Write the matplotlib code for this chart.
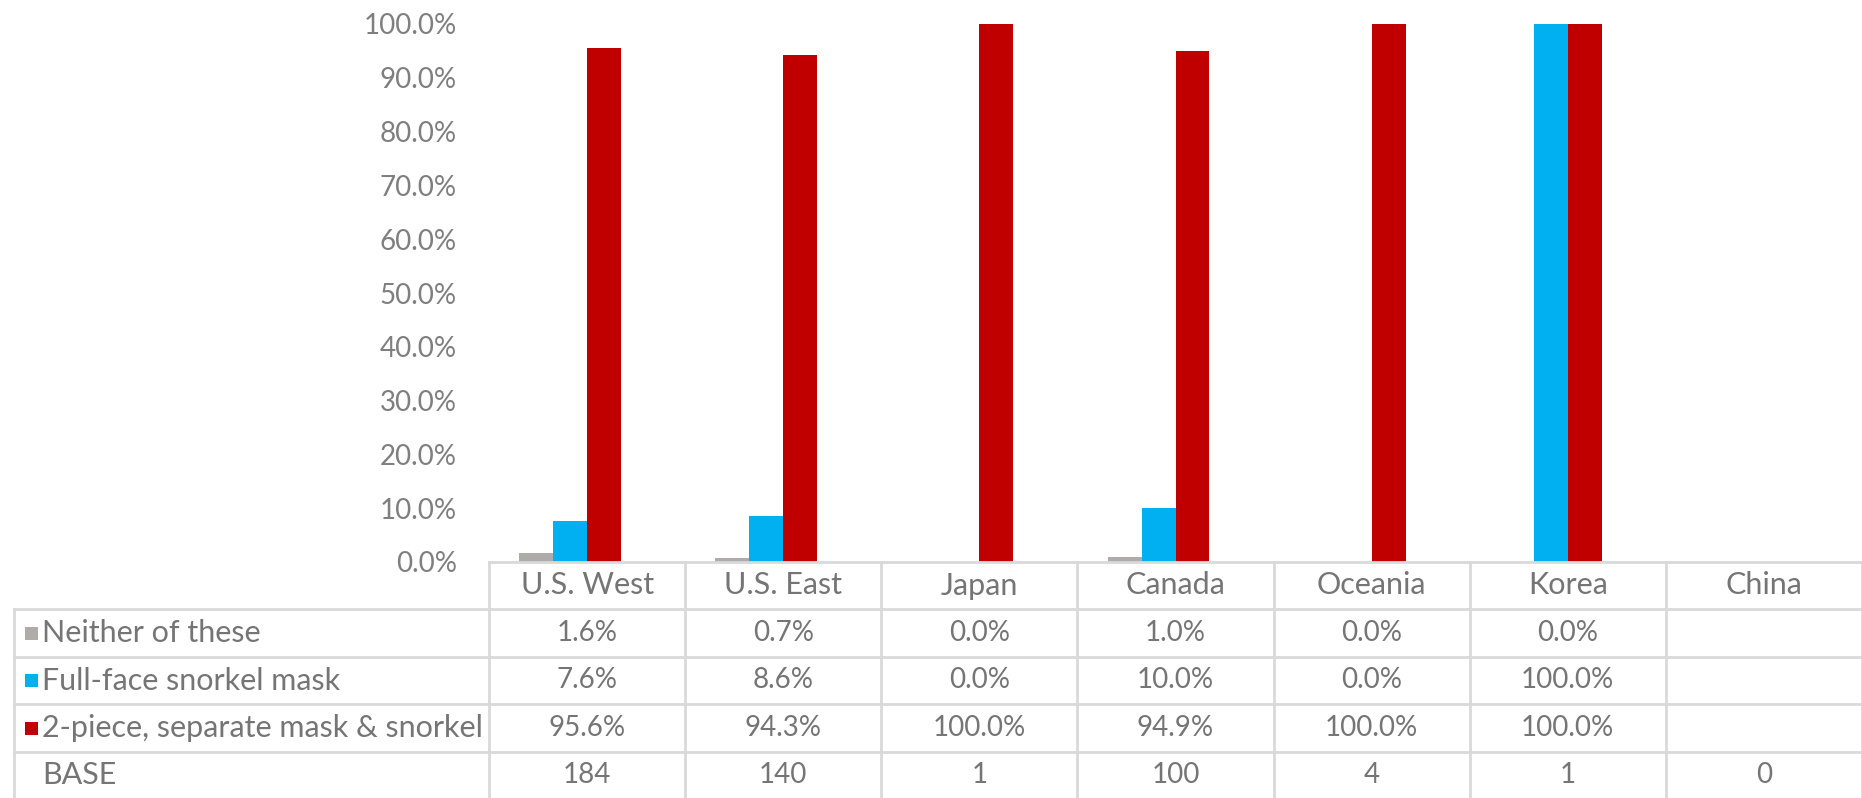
import numpy as np
import matplotlib.pyplot as plt
from matplotlib.transforms import blended_transform_factory
from matplotlib.patches import Rectangle

plt.rcParams['font.family'] = ['Lato', 'DejaVu Sans']

# data
regions = ['U.S. West', 'U.S. East', 'Japan', 'Canada', 'Oceania', 'Korea', 'China']
neither = [1.6, 0.7, 0.0, 1.0, 0.0, 0.0, None]
full_face = [7.6, 8.6, 0.0, 10.0, 0.0, 100.0, None]
two_piece = [95.6, 94.3, 100.0, 94.9, 100.0, 100.0, None]
base = [184, 140, 1, 100, 4, 1, 0]
series_names = ['Neither of these', 'Full-face snorkel mask', '2-piece, separate mask & snorkel']
colors = ['#afabab', '#00b0f0', '#c00000']

W, H = 1862, 798
fig = plt.figure(figsize=(W / 100, H / 100), dpi=100)
left_px, zero_px, top_px = 489, 562, 24
ax = fig.add_axes([left_px / W, 1 - zero_px / H, 1 - left_px / W, (zero_px - top_px) / H])

x = np.arange(len(regions))
w = 0.1727
for k, (vals, c) in enumerate(zip([neither, full_face, two_piece], colors)):
    v = np.array([np.nan if a is None else a / 100 for a in vals])
    ax.bar(x + (k - 1.5) * w, v, width=w, color=c, linewidth=0)

ax.set_xlim(-0.5, len(regions) - 0.5)
ax.set_ylim(0, 1)
ax.set_yticks(np.arange(0, 1.01, 0.1))
ax.set_yticklabels(['{:.1%}'.format(t) for t in np.arange(0, 1.01, 0.1)])
ax.tick_params(axis='y', length=0, pad=23, labelsize=20, labelcolor='#7f7f7f')
ax.set_xticks([])
for s in ax.spines.values():
    s.set_visible(False)

# data table below the plot
line_c = '#d9d9d9'
tr = blended_transform_factory(ax.transData, fig.transFigure)
def fy(px):
    return 1 - px / H

rows_px = [562, 609, 657, 704, 752, 798]
ax.plot([-0.5, 6.5], [fy(562)] * 2, color=line_c, lw=2, transform=tr, clip_on=False)
for yp in rows_px[1:5]:
    fig.add_artist(plt.Line2D([14 / W, 1], [fy(yp)] * 2, color=line_c, lw=2))
for xb in np.arange(-0.5, 7, 1.0):
    ax.plot([xb, xb], [fy(562), fy(798)], color=line_c, lw=2, transform=tr, clip_on=False)
fig.add_artist(plt.Line2D([14 / W] * 2, [fy(609), fy(798)], color=line_c, lw=2))

txt_c = '#757575'
fs_lab = 22
fs_num = 20
for i, r in enumerate(regions):
    ax.text(i, fy((562 + 609) / 2), r, transform=tr, ha='center', va='center',
            fontsize=fs_lab, color=txt_c)

row_vals = [neither, full_face, two_piece]
for j, (name, vals) in enumerate(zip(series_names, row_vals)):
    yc = fy((rows_px[j + 1] + rows_px[j + 2]) / 2)
    fig.add_artist(Rectangle((25 / W, yc - 6.5 / H), 13 / W, 13 / H,
                             transform=fig.transFigure, color=colors[j], lw=0))
    fig.text(42 / W, yc, name, ha='left', va='center', fontsize=fs_lab, color=txt_c)
    for i, v in enumerate(vals):
        if v is not None:
            ax.text(i, yc, '{:.1f}%'.format(v), transform=tr, ha='center',
                    va='center', fontsize=fs_num, color=txt_c)

yc = fy((752 + 798) / 2)
fig.text(42 / W, yc, 'BASE', ha='left', va='center', fontsize=fs_lab, color=txt_c)
for i, b in enumerate(base):
    ax.text(i, yc, str(b), transform=tr, ha='center', va='center', fontsize=fs_num, color=txt_c)

fig.savefig('out.png', dpi=100)
